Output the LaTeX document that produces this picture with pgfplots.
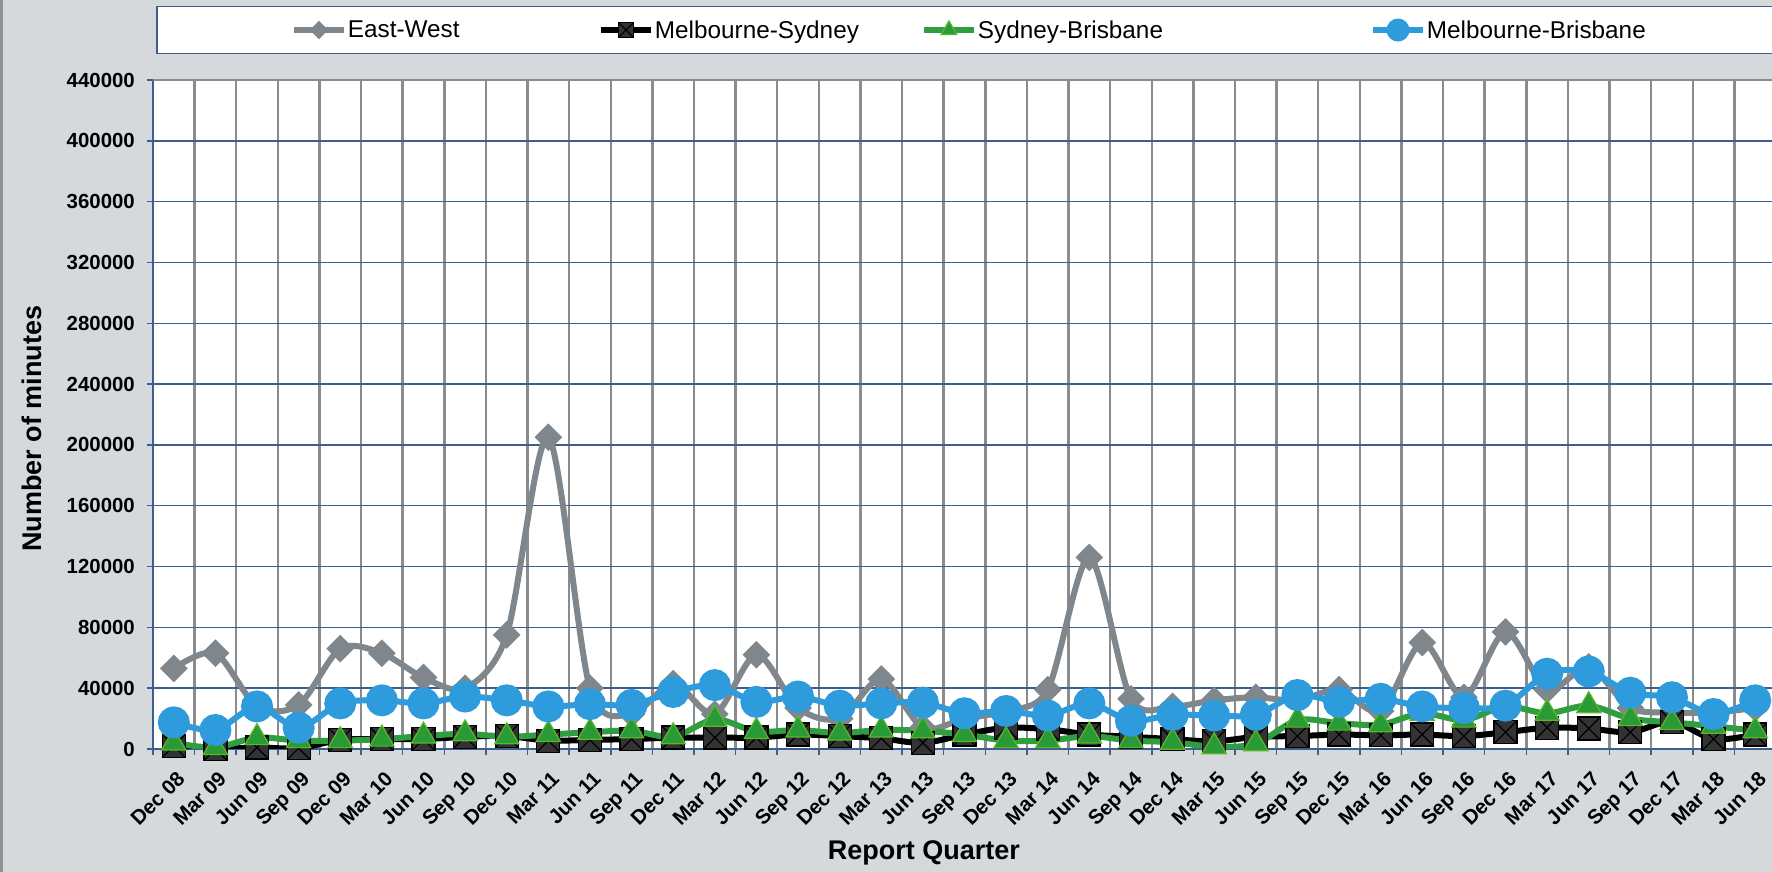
\documentclass[border=0pt]{standalone}
\usepackage{fontspec}
\setmainfont{Liberation Sans}
\usepackage{pgfplots}
\pgfplotsset{compat=1.18}
\definecolor{bg}{HTML}{D5D9DC}
\definecolor{ewgray}{HTML}{7F878C}
\definecolor{msfill}{HTML}{333333}
\definecolor{sbgreen}{HTML}{2E9E3E}
\definecolor{sbfill}{HTML}{2A9A36}
\definecolor{sbedge}{HTML}{5CB82A}
\definecolor{mbblue}{HTML}{2E9BDD}
\definecolor{hgrid}{HTML}{3D5F8F}
\definecolor{vgrid}{HTML}{8A8C8E}
\definecolor{border}{HTML}{8E9295}

\pgfdeclareplotmark{sqx}{%
 \pgfpathrectangle{\pgfqpoint{-\pgfplotmarksize}{-\pgfplotmarksize}}{\pgfqpoint{2\pgfplotmarksize}{2\pgfplotmarksize}}%
 \pgfusepathqfillstroke
 \pgfpathmoveto{\pgfqpoint{-\pgfplotmarksize}{-\pgfplotmarksize}}\pgfpathlineto{\pgfqpoint{\pgfplotmarksize}{\pgfplotmarksize}}%
 \pgfpathmoveto{\pgfqpoint{-\pgfplotmarksize}{\pgfplotmarksize}}\pgfpathlineto{\pgfqpoint{\pgfplotmarksize}{-\pgfplotmarksize}}%
 \pgfusepathqstroke}

\pgfplotstableread{
x ew ms sb mb
0 53000 2000 4000 17500
1 63000 0 1000 12500
2 28000 1000 7500 28000
3 29000 500 5500 14000
4 66000 6000 5500 30000
5 63000 6500 6500 32000
6 47000 6500 8500 30000
7 40000 8000 10000 34500
8 75000 8500 8000 32000
9 205000 5500 9500 28000
10 40000 6000 11000 29500
11 23000 6500 12000 29000
12 43000 7500 8000 37500
13 23000 7500 19500 42000
14 62000 7500 11500 31000
15 27000 9500 12500 34500
16 20000 8500 10500 28500
17 46000 7000 12500 30000
18 14000 4000 12000 30500
19 20000 9500 9500 23500
20 25000 14000 5500 25000
21 39000 13000 5500 22000
22 126000 9500 8500 30000
23 33000 8000 5500 18500
24 28000 6500 4500 22500
25 32000 5000 1500 22000
26 34000 8000 3500 22500
27 32000 8500 19000 35500
28 39000 9500 17000 31000
29 25000 9000 16000 33000
30 70000 9500 23500 28000
31 34000 8500 19000 27000
32 77000 11000 28000 28500
33 39000 14000 23500 49500
34 54000 13500 28500 51000
35 27000 11000 20000 37000
36 24000 18000 17500 34000
37 24000 6500 15000 23000
38 27000 9500 12000 32000
}\datatable

\begin{document}
\begin{tikzpicture}[x=1pt,y=1pt]
\fill[bg] (0,0) rectangle (1772,872);
\draw[border, line width=3pt] (1.5,0) -- (1.5,872);
\begin{axis}[
  at={(153pt,123pt)}, anchor=south west,
  scale only axis, width=1623pt, height=669pt,
  xmin=-0.5, xmax=38.5, ymin=0, ymax=440000,
  axis background/.style={fill=white},
  axis x line*=bottom, axis y line*=left,
  axis line style={hgrid, line width=2pt},
  ytick={0,40000,...,440000},
  minor ytick={0,40000,...,440000},
  xtick={0,...,38},
  xticklabels={Dec 08,Mar 09,Jun 09,Sep 09,Dec 09,Mar 10,Jun 10,Sep 10,Dec 10,Mar 11,Jun 11,Sep 11,Dec 11,Mar 12,Jun 12,Sep 12,Dec 12,Mar 13,Jun 13,Sep 13,Dec 13,Mar 14,Jun 14,Sep 14,Dec 14,Mar 15,Jun 15,Sep 15,Dec 15,Mar 16,Jun 16,Sep 16,Dec 16,Mar 17,Jun 17,Sep 17,Dec 17,Mar 18,Jun 18},
  minor xtick={-0.5,0.5,...,38.5},
  ymajorgrids=true, xminorgrids=true,
  major grid style={hgrid, line width=1.4pt},
  minor grid style={vgrid, line width=2.5pt},
  tick align=outside,
  major tick length=0pt, minor tick length=6pt,
  tick style={hgrid, line width=1.5pt},
  scaled y ticks=false,
  yticklabel={\pgfmathprintnumber[fixed,precision=0,set thousands separator={},assume math mode=true]{\tick}},
  yticklabel style={font=\bfseries\fontsize{20.4}{22}\selectfont, inner sep=0pt, xshift=-18pt},
  xticklabel style={font=\bfseries\fontsize{20.5}{22}\selectfont, xshift=2pt, yshift=-18pt, rotate=45, anchor=north east, inner sep=2pt},
  ylabel={Number of minutes},
  ylabel style={at={(axis description cs:-0.0745,0.479)}, anchor=center, font=\bfseries\fontsize{27}{30}\selectfont},
  xlabel={Report Quarter},
  xlabel style={at={(axis description cs:0.475,-0.155)}, anchor=center, font=\bfseries\fontsize{27}{30}\selectfont},
  legend columns=4,
  legend style={at={(axis description cs:0.002,1.0747)}, anchor=west, draw=hgrid, line width=1.5pt, fill=white,
    inner xsep=134pt, inner ysep=14pt, font=\fontsize{24.3}{28}\selectfont,
    nodes={inner sep=0pt},
    /tikz/every odd column/.append style={column sep=1pt},
    /tikz/every even column/.append style={column sep=0pt}},
  legend image code/.code={\draw[mark repeat=2,mark phase=2,#1,/tikz/every mark/.append style={scale=0.65}] plot coordinates {(0pt,0pt)(25pt,0pt)(50pt,0pt)};},
]
\addplot[ewgray, line width=6pt, smooth, tension=0.5, mark=square*, mark size=9.5pt,
  mark options={rotate=45, fill=ewgray, draw=ewgray, line width=0.5pt}] table[x=x,y=ew] {\datatable};
\addlegendentry{\makebox[250pt][l]{East-West}}
\addplot[black, line width=6pt, smooth, tension=0.5, mark=sqx, mark size=11.5pt,
  mark options={fill=msfill, draw=black, line width=1.2pt}] table[x=x,y=ms] {\datatable};
\addlegendentry{\makebox[266pt][l]{Melbourne-Sydney}}
\addplot[sbgreen, line width=6pt, smooth, tension=0.5, mark=triangle*, mark size=14pt,
  mark options={fill=sbfill, draw=sbedge, line width=1.2pt}] table[x=x,y=sb] {\datatable};
\addlegendentry{\makebox[392pt][l]{Sydney-Brisbane}}
\addplot[mbblue, line width=6pt, smooth, tension=0.5, mark=*, mark size=13pt,
  mark options={fill=mbblue, draw=mbblue}] table[x=x,y=mb] {\datatable};
\addlegendentry{\makebox[220pt][l]{Melbourne-Brisbane}}
\draw[vgrid, line width=3pt] (rel axis cs:0,1) -- (rel axis cs:1,1);
\end{axis}
\pgfresetboundingbox
\path (0,0) rectangle (1772,872);
\end{tikzpicture}
\end{document}
